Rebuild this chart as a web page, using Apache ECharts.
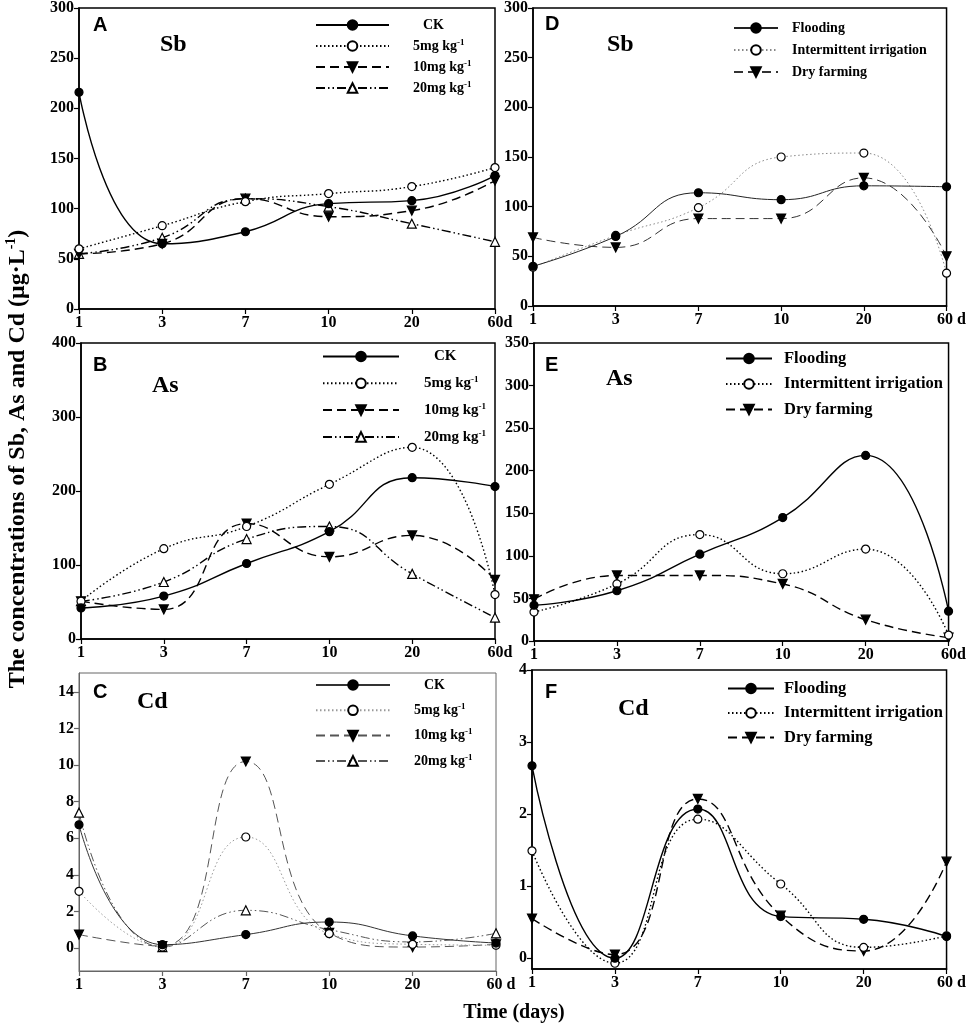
<!DOCTYPE html>
<html>
<head>
<meta charset="utf-8">
<script src="https://cdn.jsdelivr.net/npm/echarts@6/dist/echarts.min.js"></script>
<style>
html,body{margin:0;padding:0;background:#fff;}
#chart{width:969px;height:1027px;}
</style>
</head>
<body>
<div id="chart"></div>
<script>
// ---------- tick labels ----------
const days = ['1', '3', '7', '10', '20', '60d'];
const daysSpaced = ['1', '3', '7', '10', '20', '60 d'];

// ---------- A: Sb, dose treatments ----------
const sbCK  = [216, 65, 77, 105, 108, 133];
const sb5   = [60, 83, 107, 115, 122, 141];
const sb10  = [55, 65, 110, 92, 98, 128];
const sb20  = [55, 71, 110, 102, 85, 67];
// ---------- B: As, dose treatments ----------
const asCK  = [42, 58, 102, 145, 218, 206];
const as5   = [51, 122, 152, 209, 259, 60];
const as10  = [51, 40, 156, 111, 140, 80];
const as20  = [51, 77, 135, 152, 88, 29];
// ---------- C: Cd, dose treatments ----------
const cdCK  = [6.74, 0.18, 0.73, 1.42, 0.66, 0.27];
const cd5   = [3.1, 0.05, 6.07, 0.78, 0.2, 0.15];
const cd10  = [0.73, 0.1, 10.2, 0.82, 0.05, 0.2];
const cd20  = [7.4, 0.05, 2.06, 1.0, 0.33, 0.8];
// ---------- D: Sb, water management ----------
const sbFlood = [40, 70, 114, 107, 121, 120];
const sbInter = [39, 71, 99, 150, 154, 33];
const sbDry   = [69, 59, 88, 88, 129, 50];
// ---------- E: As, water management ----------
const asFlood = [42, 59, 102, 145, 218, 35];
const asInter = [34, 67, 125, 79, 108, 7];
const asDry   = [49, 77, 77, 67, 25, 4];
// ---------- F: Cd, water management ----------
const cdFlood = [2.67, 0.0, 2.07, 0.58, 0.54, 0.30];
const cdInter = [1.49, -0.07, 1.93, 1.03, 0.15, 0.31];
const cdDry   = [0.55, 0.05, 2.21, 0.59, 0.10, 1.34];

const doseNames = ['CK', '5mg kg', '10mg kg', '20mg kg'];
const waterNames = ['Flooding', 'Intermittent irrigation', 'Dry farming'];

const SERIF = '"Liberation Serif", "Times New Roman", serif';
const SANS = '"Liberation Sans", Arial, sans-serif';
const downTri = 'path://M0,0L10,0L5,9Z';

const styles = [
  { symbol: 'circle', fill: '#000', dash: 'solid', size: 8 },
  { symbol: 'circle', fill: '#fff', dash: [1.5, 2.5], size: 8 },
  { symbol: downTri, fill: '#000', dash: [9, 5], size: 9 },
  { symbol: 'triangle', fill: '#fff', dash: [9, 3, 1.5, 3, 1.5, 3], size: 9 }
];

// layout per panel
const panels = [
  { key: 'A', sub: 'Sb', grid: { left: 79, top: 5, width: 416, height: 304 }, y: { min: 0, max: 300, interval: 50 }, xl: days,
    names: doseNames, data: [sbCK, sb5, sb10, sb20], lw: 1.4, colors: ['#000', '#000', '#000', '#000'],
    legend: { left: 315, top: 18, w: 73, gap: 6, pad: 19, ckPad: 29, fs: 14 }, frame: '#000',
    letter: [93, 26], label: [160, 46] },
  { key: 'B', sub: 'As', grid: { left: 81, top: 343, width: 414, height: 296 }, y: { min: 0, max: 400, interval: 100 }, xl: days,
    names: doseNames, data: [asCK, as5, as10, as20], lw: 1.4, colors: ['#000', '#000', '#000', '#000'],
    legend: { left: 322, top: 349, w: 76, gap: 11.3, pad: 20, ckPad: 30, fs: 15 }, frame: '#000',
    letter: [93, 366], label: [152, 387] },
  { key: 'C', sub: 'Cd', grid: { left: 79, top: 673, width: 417, height: 298 }, y: { min: -1.26, max: 15.04, custom: [0, 2, 4, 6, 8, 10, 12, 14] }, xl: daysSpaced,
    names: doseNames, data: [cdCK, cd5, cd10, cd20], lw: 1, colors: ['#333', '#999', '#555', '#555'],
    legend: { left: 315, top: 678, w: 74, gap: 10.3, pad: 19, ckPad: 29, fs: 14 }, frame: '#666',
    letter: [93, 693], label: [137, 703] },
  { key: 'D', sub: 'Sb', grid: { left: 533, top: 6, width: 420, height: 300 }, y: { min: 0, max: 300, interval: 50 }, xl: daysSpaced,
    names: waterNames, data: [sbFlood, sbInter, sbDry], lw: 1, colors: ['#222', '#888', '#333'],
    legend: { left: 733, top: 21, w: 44, gap: 8, pad: 2, ckPad: 9, fs: 14 }, frame: '#000',
    letter: [545, 25], label: [607, 46] },
  { key: 'E', sub: 'As', grid: { left: 534, top: 343, width: 417, height: 298 }, y: { min: 0, max: 350, interval: 50 }, xl: days,
    names: waterNames, data: [asFlood, asInter, asDry], lw: 1.4, colors: ['#000', '#000', '#000'],
    legend: { left: 725, top: 350, w: 46, gap: 8.5, pad: 3, ckPad: 7, fs: 16.5 }, frame: '#000',
    letter: [545, 366], label: [606, 380] },
  { key: 'F', sub: 'Cd', grid: { left: 532, top: 670, width: 418, height: 299 }, y: { min: -0.15, max: 4, custom: [0, 1, 2, 3, 4] }, xl: daysSpaced,
    names: waterNames, data: [cdFlood, cdInter, cdDry], lw: 1.4, colors: ['#000', '#000', '#000'],
    legend: { left: 727, top: 680, w: 46, gap: 7.5, pad: 2, ckPad: 5, fs: 16.5 }, frame: '#000',
    letter: [545, 693], label: [618, 710] }
];

const grids = [], xAxes = [], yAxes = [], series = [], legends = [], graphics = [];

panels.forEach((p, i) => {
  grids.push(Object.assign({ show: true, borderColor: p.frame, borderWidth: p.frame === '#000' ? 1.5 : 1, backgroundColor: 'transparent' }, p.grid));
  const axisLine = { show: true, onZero: false, lineStyle: { color: p.frame, width: p.frame === '#000' ? 1.5 : 1 } };
  const tick = { show: true, inside: false, length: 5, lineStyle: { color: p.frame, width: 1.2 } };
  xAxes.push({
    type: 'category', gridIndex: i, data: p.xl, boundaryGap: false,
    axisLine, axisTick: tick, splitLine: { show: false },
    axisLabel: {
      color: '#000', fontFamily: SERIF, fontWeight: 'bold', fontSize: 16, margin: 6,
      formatter: v => (v.indexOf('60') === 0 ? '{e|' + v + '}' : v),
      rich: { e: { fontFamily: SERIF, fontWeight: 'bold', fontSize: 16, color: '#000', padding: [0, 0, 0, 10] } }
    }
  });
  const ya = {
    type: 'value', gridIndex: i, min: p.y.min, max: p.y.max,
    axisLine, splitLine: { show: false },
    axisTick: Object.assign({}, tick),
    axisLabel: { color: '#000', fontFamily: SERIF, fontWeight: 'bold', fontSize: 16, margin: 5 }
  };
  if (p.y.custom) {
    ya.axisTick.customValues = p.y.custom;
    ya.axisLabel.customValues = p.y.custom;
  } else {
    ya.interval = p.y.interval;
  }
  yAxes.push(ya);

  const legendData = [];
  p.names.forEach((nm, k) => {
    const st = styles[k];
    const sname = p.key + '|' + nm;
    legendData.push(sname);
    series.push({
      type: 'line', name: sname, xAxisIndex: i, yAxisIndex: i, data: p.data[k],
      smooth: 0.5, symbol: st.symbol, symbolSize: st.size, showAllSymbol: true,
      lineStyle: { color: p.colors[k], width: p.lw, type: st.dash },
      itemStyle: { color: st.fill, borderColor: '#000', borderWidth: 1.2 },
      emphasis: { disabled: true }, silent: true, z: 5 - k, clip: false
    });
  });

  const lg = p.legend;
  legends.push({
    orient: 'vertical', left: lg.left, top: lg.top, itemWidth: lg.w, itemHeight: 12, itemGap: lg.gap,
    padding: 0, data: legendData, selectedMode: false,
    formatter: name => {
      const label = name.split('|')[1];
      if (label.indexOf('kg') > 0) return '{t|' + label + '}{s|-1}';
      return '{c|' + label + '}';
    },
    textStyle: {
      color: '#000', fontFamily: SERIF, fontWeight: 'bold', fontSize: lg.fs,
      rich: {
        t: { fontFamily: SERIF, fontWeight: 'bold', fontSize: lg.fs, color: '#000', padding: [0, 0, 0, lg.pad], lineHeight: 16 },
        c: { fontFamily: SERIF, fontWeight: 'bold', fontSize: lg.fs, color: '#000', padding: [0, 0, 0, lg.ckPad], lineHeight: 16 },
        s: { fontFamily: SERIF, fontWeight: 'bold', fontSize: 9, color: '#000', verticalAlign: 'top', lineHeight: 16 }
      }
    }
  });

  graphics.push({
    type: 'text', left: p.letter[0], top: p.letter[1] - 11,
    style: { text: p.key, font: 'bold 20px ' + SANS, fill: '#000' }
  });
  graphics.push({
    type: 'text', left: p.label[0], top: p.label[1] - 13,
    style: { text: p.sub, font: 'bold 24px ' + SERIF, fill: '#000' }
  });
});

graphics.push({
  type: 'text', x: 18, y: 459, rotation: Math.PI / 2,
  style: {
    text: '{m|The concentrations of Sb, As and Cd (μg·L}{s|-1}{m|)}',
    align: 'center', verticalAlign: 'middle', textAlign: 'center', textVerticalAlign: 'middle',
    rich: {
      m: { font: 'bold 24px ' + SERIF, fill: '#000', lineHeight: 28 },
      s: { font: 'bold 14px ' + SERIF, fill: '#000', verticalAlign: 'top', lineHeight: 28 }
    }
  }
});
graphics.push({
  type: 'text', x: 514, y: 1013,
  style: { text: 'Time (days)', font: 'bold 20px ' + SERIF, fill: '#000', align: 'center', verticalAlign: 'middle', textAlign: 'center', textVerticalAlign: 'middle' }
});

const chart = echarts.init(document.getElementById('chart'), null, { renderer: 'canvas' });
chart.setOption({
  animation: false,
  backgroundColor: '#fff',
  grid: grids, xAxis: xAxes, yAxis: yAxes, series, legend: legends,
  graphic: graphics,
  tooltip: { show: false }
});
</script>
</body>
</html>
